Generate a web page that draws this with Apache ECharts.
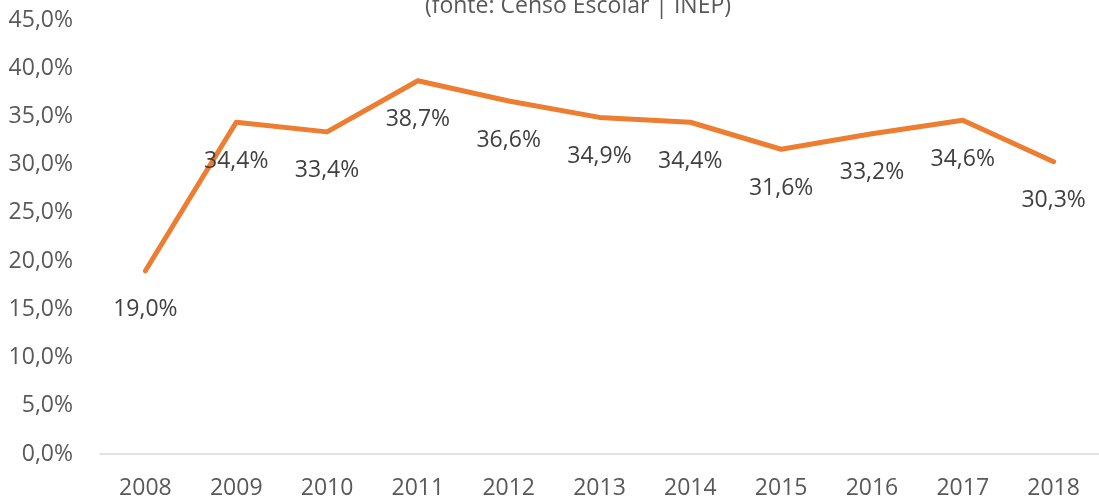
<!DOCTYPE html>
<html>
<head>
<meta charset="utf-8">
<script src="https://cdn.jsdelivr.net/npm/echarts@6/dist/echarts.min.js"></script>
<style>
  html, body { margin: 0; padding: 0; background: #fff; }
  #chart { width: 1099px; height: 500px; }
</style>
</head>
<body>
<div id="chart"></div>
<script>
// anos e taxas (%)
const years = ['2008', '2009', '2010', '2011', '2012', '2013', '2014', '2015', '2016', '2017', '2018'];
const rates = [19.0, 34.4, 33.4, 38.7, 36.6, 34.9, 34.4, 31.6, 33.2, 34.6, 30.3];
const subtitle = '(fonte: Censo Escolar | INEP)';

const fmt = v => v.toFixed(1).replace('.', ',') + '%';
const font = 'Open Sans';

const chart = echarts.init(document.getElementById('chart'), null, { renderer: 'canvas' });

chart.setOption({
  animation: false,
  title: {
    text: subtitle,
    left: 573,
    top: -10,
    textAlign: 'center',
    textStyle: { fontFamily: font, fontSize: 23, fontWeight: 'normal', color: '#595959' }
  },
  grid: { left: 100, right: -9, top: 20, bottom: 45, containLabel: false },
  xAxis: {
    type: 'category',
    data: years,
    boundaryGap: true,
    axisLine: { lineStyle: { color: '#d9d9d9', width: 1.5 } },
    axisTick: { show: false },
    axisLabel: { fontFamily: font, fontSize: 23, color: '#595959', margin: 23 }
  },
  yAxis: {
    type: 'value',
    min: 0,
    max: 45,
    interval: 5,
    axisLine: { show: false },
    axisTick: { show: false },
    splitLine: { show: false },
    axisLabel: { fontFamily: font, fontSize: 23, color: '#595959', margin: 27, formatter: fmt }
  },
  series: [{
    type: 'line',
    data: rates,
    symbol: 'circle',
    symbolSize: 1,
    showSymbol: true,
    itemStyle: { color: '#ED7D31' },
    lineStyle: { color: '#ED7D31', width: 5, cap: 'round', join: 'round' },
    label: {
      show: true,
      position: 'bottom',
      distance: 27,
      fontFamily: font,
      fontSize: 23,
      color: '#404040',
      formatter: p => fmt(p.value)
    },
    labelLayout: { hideOverlap: false }
  }]
});
</script>
</body>
</html>
